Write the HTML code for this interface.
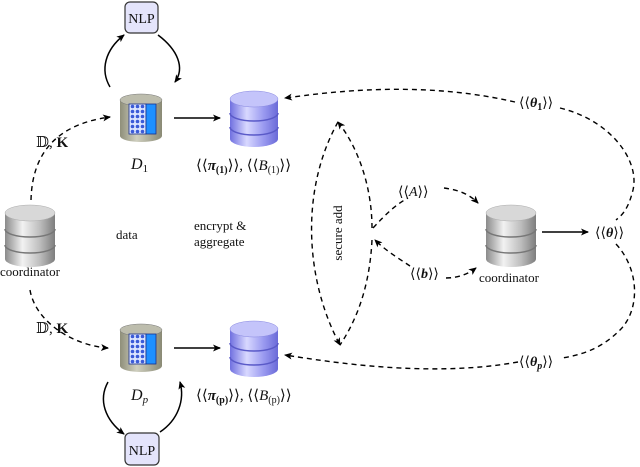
<!DOCTYPE html>
<html><head><meta charset="utf-8"><style>
body{margin:0;background:#fff}
svg{display:block;font-family:"Liberation Serif","DejaVu Serif",serif}
svg text{font-family:"Liberation Serif","DejaVu Serif",serif;fill:#111}
</style></head><body>
<svg width="640" height="467" viewBox="0 0 640 467" xmlns="http://www.w3.org/2000/svg" font-family="Liberation Serif, serif">
<defs>
<linearGradient id="gs" x1="0" x2="1"><stop offset="0" stop-color="#8a8a8a"/><stop offset=".35" stop-color="#f2f2f2"/><stop offset=".7" stop-color="#bdbdbd"/><stop offset="1" stop-color="#7d7d7d"/></linearGradient>
<linearGradient id="gb" x1="0" x2="1"><stop offset="0" stop-color="#7070e0"/><stop offset=".35" stop-color="#d8d8ff"/><stop offset=".7" stop-color="#9a9af0"/><stop offset="1" stop-color="#6a6ad8"/></linearGradient>
<linearGradient id="go" x1="0" x2="1"><stop offset="0" stop-color="#8f8f7a"/><stop offset=".4" stop-color="#cfcfbf"/><stop offset="1" stop-color="#8a8a75"/></linearGradient>
<pattern id="chk" width="5" height="5" patternUnits="userSpaceOnUse"><rect width="5" height="5" fill="#dde6ff"/><circle cx="2.5" cy="2.5" r="1.8" fill="#3b5bd8"/></pattern>
<marker id="ah" markerWidth="8" markerHeight="8" refX="7" refY="4" orient="auto" markerUnits="userSpaceOnUse"><path d="M0,0.5 L8,4 L0,7.5 L2,4z" fill="#000"/></marker>
<g id="cylS">
<path d="M0,8 v46 a25,8 0 0 0 50,0 v-46z" fill="url(#gs)"/>
<ellipse cx="25" cy="8" rx="25" ry="8" fill="#d8d8d8" stroke="#aaa" stroke-width=".5"/>
<path d="M0,24 a25,8 0 0 0 50,0 M0,40 a25,8 0 0 0 50,0" fill="none" stroke="#777" stroke-width="1.5"/>
</g>
<g id="cylB">
<path d="M0,8 v40 a24,8 0 0 0 48,0 v-40z" fill="url(#gb)"/>
<ellipse cx="24" cy="8" rx="24" ry="8" fill="#c4c4fa" stroke="#8888e0" stroke-width=".5"/>
<path d="M0,22 a24,8 0 0 0 48,0 M0,36 a24,8 0 0 0 48,0" fill="none" stroke="#5a5ac8" stroke-width="1.5"/>
</g>
<g id="cylO">
<path d="M0,6 v36 a21,6 0 0 0 42,0 v-36z" fill="url(#go)"/>
<ellipse cx="21" cy="6" rx="21" ry="6" fill="#bdbdad" stroke="#777" stroke-width=".5"/>
<rect x="9" y="10" width="17" height="30" fill="url(#chk)" stroke="#1a2f8a" stroke-width=".8"/>
<rect x="26" y="10" width="10" height="30" fill="#1e90ff" stroke="#1a2f8a" stroke-width=".8"/>
</g>
</defs>

<rect x="125" y="2" width="33" height="31" rx="5" fill="#e4e4fb" stroke="#333" stroke-width="1.2"/>
<text x="141.5" y="23" font-size="14" text-anchor="middle">NLP</text>
<rect x="125" y="433" width="34" height="32" rx="5" fill="#e4e4fb" stroke="#333" stroke-width="1.2"/>
<text x="142" y="455" font-size="14" text-anchor="middle">NLP</text>

<use href="#cylO" x="120" y="94"/>
<use href="#cylO" x="120" y="324"/>
<use href="#cylB" x="230" y="91"/>
<use href="#cylB" x="230" y="321"/>
<use href="#cylS" x="5" y="205"/>
<use href="#cylS" x="486" y="205"/>

<g fill="none" stroke="#000" stroke-width="1.5">
<path d="M110,87 C100,70 105,50 124,35" marker-end="url(#ah)"/>
<path d="M158,35 C178,50 185,68 175,82" marker-end="url(#ah)"/>
<path d="M108,382 C98,400 105,420 124,434" marker-end="url(#ah)"/>
<path d="M160,432 C178,420 185,400 180,382" marker-end="url(#ah)"/>
<path d="M174,118 H220" marker-end="url(#ah)"/>
<path d="M174,348 H220" marker-end="url(#ah)"/>
<path d="M542,232 H588" marker-end="url(#ah)"/>
</g>
<g fill="none" stroke="#000" stroke-width="1.4" stroke-dasharray="5,4">
<path d="M31,200 C32,160 50,125 110,117" marker-end="url(#ah)"/>
<path d="M30,290 C35,320 70,345 108,348" marker-end="url(#ah)"/>
<path d="M372,228 C372,190 360,150 338,122" marker-end="url(#ah)"/>
<path d="M338,122 C300,190 305,280 340,345" marker-end="url(#ah)"/>
<path d="M372,240 C370,280 360,315 340,345"/>
<path d="M373,228 C385,215 395,205 408,198"/>
<path d="M444,188 C460,190 470,195 478,203" marker-end="url(#ah)"/>
<path d="M410,266 C398,258 385,250 375,240" marker-end="url(#ah)"/>
<path d="M446,278 C458,278 468,274 476,268" marker-end="url(#ah)"/>
<path d="M515,102 C420,80 330,92 285,98" marker-end="url(#ah)"/>
<path d="M560,108 C610,120 640,160 633,190 C628,210 622,215 616,220"/>
<path d="M616,244 C640,270 640,310 620,330 C600,350 580,355 562,358"/>
<path d="M518,362 C430,378 330,362 285,355" marker-end="url(#ah)"/>
</g>

<text x="36" y="147" font-size="15">𝔻, <tspan font-weight="bold">K</tspan></text>
<text x="36" y="333" font-size="15">𝔻, <tspan font-weight="bold">K</tspan></text>
<text x="131" y="169" font-size="16" font-style="italic">D<tspan font-size="11" font-style="normal" dy="3">1</tspan></text>
<text x="131" y="400" font-size="16" font-style="italic">D<tspan font-size="11" dy="3">p</tspan></text>
<text x="196" y="170" font-size="15">⟨⟨<tspan font-weight="bold" font-style="italic">π</tspan><tspan font-size="10" font-weight="bold" dy="3">(1)</tspan><tspan dy="-3">⟩⟩, ⟨⟨</tspan><tspan font-style="italic">B</tspan><tspan font-size="10" dy="3">(1)</tspan><tspan dy="-3">⟩⟩</tspan></text>
<text x="196" y="400" font-size="15">⟨⟨<tspan font-weight="bold" font-style="italic">π</tspan><tspan font-size="10" font-weight="bold" dy="3">(p)</tspan><tspan dy="-3">⟩⟩, ⟨⟨</tspan><tspan font-style="italic">B</tspan><tspan font-size="10" dy="3">(p)</tspan><tspan dy="-3">⟩⟩</tspan></text>
<text x="0" y="276" font-size="13">coordinator</text>
<text x="479" y="282" font-size="13">coordinator</text>
<text x="116" y="239" font-size="13">data</text>
<text x="194" y="230" font-size="13">encrypt &amp;</text>
<text x="194" y="246" font-size="13">aggregate</text>
<text x="0" y="0" font-size="13" transform="translate(342,233) rotate(-90)" text-anchor="middle">secure add</text>
<text x="398" y="196" font-size="14">⟨⟨<tspan font-style="italic">A</tspan>⟩⟩</text>
<text x="410" y="278" font-size="14">⟨⟨<tspan font-style="italic" font-weight="bold">b</tspan>⟩⟩</text>
<text x="595" y="237" font-size="14">⟨⟨<tspan font-style="italic" font-weight="bold">θ</tspan>⟩⟩</text>
<text x="519" y="107" font-size="14">⟨⟨<tspan font-style="italic" font-weight="bold">θ</tspan><tspan font-size="10" font-weight="bold" dy="3">1</tspan><tspan dy="-3">⟩⟩</tspan></text>
<text x="519" y="366" font-size="14">⟨⟨<tspan font-style="italic" font-weight="bold">θ</tspan><tspan font-size="10" font-weight="bold" font-style="italic" dy="3">p</tspan><tspan dy="-3">⟩⟩</tspan></text>
</svg>
</body></html>
